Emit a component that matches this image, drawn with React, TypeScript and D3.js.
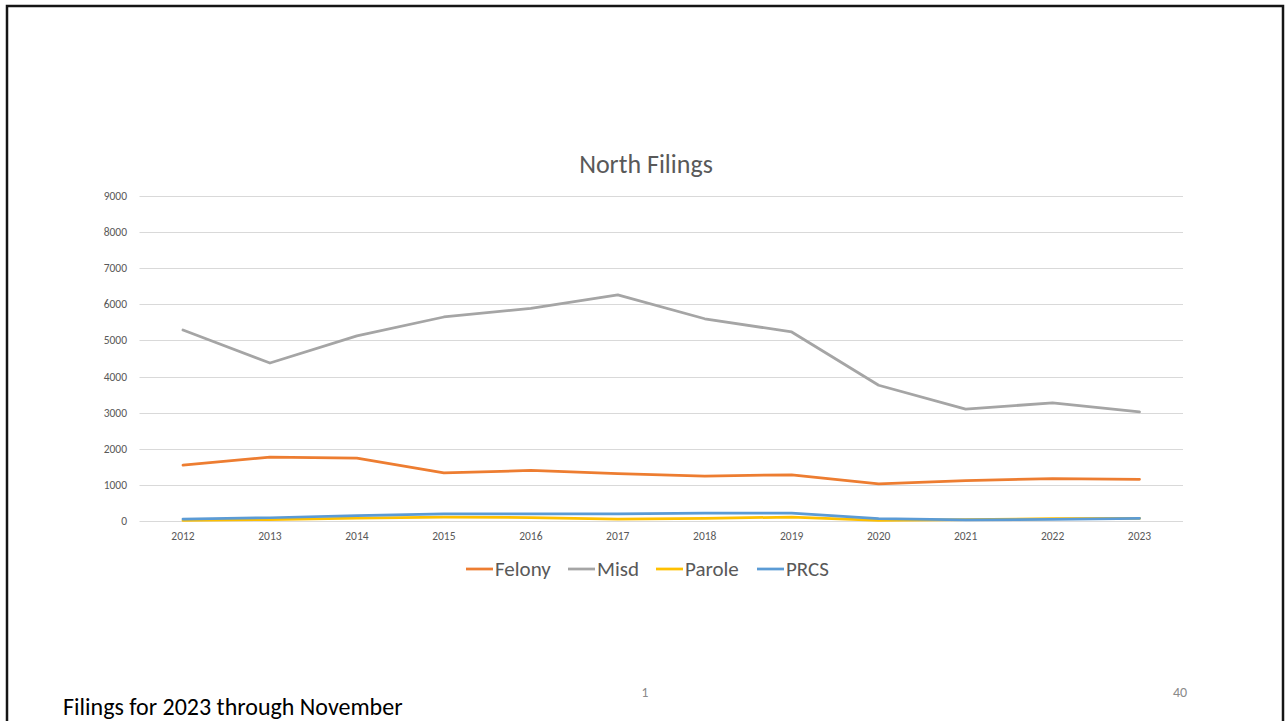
import * as React from 'react';
import * as d3 from 'd3';

const YEARS = ['2012', '2013', '2014', '2015', '2016', '2017', '2018', '2019', '2020', '2021', '2022', '2023'];
const FELONY = [1550, 1770, 1740, 1335, 1400, 1315, 1246, 1280, 1025, 1115, 1175, 1155];
const MISD = [5290, 4375, 5125, 5650, 5890, 6260, 5600, 5235, 3760, 3100, 3270, 3020];
const PAROLE = [15, 40, 80, 110, 95, 55, 70, 110, 15, 40, 65, 70];
const PRCS = [55, 90, 150, 195, 195, 200, 220, 215, 65, 30, 45, 75];
const Y_TICKS = [0, 1000, 2000, 3000, 4000, 5000, 6000, 7000, 8000, 9000];

interface Series {
    name: string;
    color: string;
    values: number[];
}

const SERIES: Series[] = [
    { name: 'Felony', color: '#ED7D31', values: FELONY },
    { name: 'Misd', color: '#A5A5A5', values: MISD },
    { name: 'Parole', color: '#FFC000', values: PAROLE },
    { name: 'PRCS', color: '#5B9BD5', values: PRCS }
];

const FONT = "Carlito, Calibri, Lato, 'Liberation Sans', sans-serif";

export default function App() {
    const svgRef = React.useRef<SVGSVGElement>(null);

    React.useEffect(() => {
        const svg = d3.select(svgRef.current);
        svg.selectAll('*').remove();

        /** ******** Slide frame ********* */
        svg.append('rect')
            .attr('x', 7)
            .attr('y', 6)
            .attr('width', 1276)
            .attr('height', 730)
            .attr('fill', 'none')
            .attr('stroke', '#151515')
            .attr('stroke-width', 2.5);

        /** ******** Plot area ********* */
        const LEFT = 139.5;
        const RIGHT = 1183;
        const TOP = 196;
        const BOTTOM = 521;

        const xScale = d3.scaleBand<string>().domain(YEARS).range([LEFT, RIGHT]);
        const xPos = (i: number) => xScale(YEARS[i])! + xScale.bandwidth() / 2;
        const yScale = d3.scaleLinear().domain([0, 9000]).range([BOTTOM, TOP]);

        // Title
        svg.append('text')
            .attr('x', 646)
            .attr('y', 173)
            .attr('text-anchor', 'middle')
            .attr('font-family', FONT)
            .attr('font-size', 26)
            .attr('fill', '#595959')
            .text('North Filings');

        // Grid
        svg.append('g')
            .selectAll('line')
            .data(Y_TICKS)
            .enter()
            .append('line')
            .attr('x1', LEFT)
            .attr('x2', RIGHT)
            .attr('y1', d => Math.round(yScale(d)) + 0.5)
            .attr('y2', d => Math.round(yScale(d)) + 0.5)
            .attr('stroke', '#D9D9D9')
            .attr('stroke-width', 1);

        // Y axis labels
        svg.append('g')
            .selectAll('text')
            .data(Y_TICKS)
            .enter()
            .append('text')
            .attr('x', 127)
            .attr('y', d => yScale(d) + 4)
            .attr('text-anchor', 'end')
            .attr('font-family', FONT)
            .attr('font-size', 11.5)
            .attr('fill', '#595959')
            .text(d => String(d));

        // X axis labels
        svg.append('g')
            .selectAll('text')
            .data(YEARS)
            .enter()
            .append('text')
            .attr('x', (d, i) => xPos(i))
            .attr('y', 540)
            .attr('text-anchor', 'middle')
            .attr('font-family', FONT)
            .attr('font-size', 11.5)
            .attr('fill', '#595959')
            .text(d => d);

        /** ******** Lines ********* */
        const line = d3
            .line<number>()
            .x((d, i) => xPos(i))
            .y(d => yScale(d));

        svg.append('g')
            .selectAll('path')
            .data(SERIES)
            .enter()
            .append('path')
            .attr('d', d => line(d.values))
            .attr('fill', 'none')
            .attr('stroke', d => d.color)
            .attr('stroke-width', 2.75)
            .attr('stroke-linejoin', 'round')
            .attr('stroke-linecap', 'round');

        /** ******** Legend ********* */
        const LEGEND_X = [466, 568, 656, 757];
        const legend = svg.append('g')
            .selectAll('g')
            .data(SERIES)
            .enter()
            .append('g')
            .attr('transform', (d, i) => `translate(${LEGEND_X[i]},569)`);
        legend.append('line')
            .attr('x1', 0)
            .attr('x2', 27)
            .attr('stroke', d => d.color)
            .attr('stroke-width', 2.75);
        legend.append('text')
            .attr('x', 29)
            .attr('y', 7)
            .attr('font-family', FONT)
            .attr('font-size', 21)
            .attr('fill', '#595959')
            .text(d => d.name);

        /** ******** Footer ********* */
        svg.append('text')
            .attr('x', 63)
            .attr('y', 715)
            .attr('font-family', FONT)
            .attr('font-size', 24)
            .attr('fill', '#000')
            .text('Filings for 2023 through November');
        svg.append('text')
            .attr('x', 645)
            .attr('y', 697)
            .attr('text-anchor', 'middle')
            .attr('font-family', FONT)
            .attr('font-size', 13.5)
            .attr('fill', '#8a8a8a')
            .text('1');
        svg.append('text')
            .attr('x', 1180)
            .attr('y', 697)
            .attr('text-anchor', 'middle')
            .attr('font-family', FONT)
            .attr('font-size', 14)
            .attr('fill', '#8a8a8a')
            .text('40');
    }, []);

    return (
        <svg
            ref={svgRef}
            width={1286}
            height={721}
            style={{ position: 'absolute', left: 0, top: 0, background: '#fff' }}
        />
    );
}
